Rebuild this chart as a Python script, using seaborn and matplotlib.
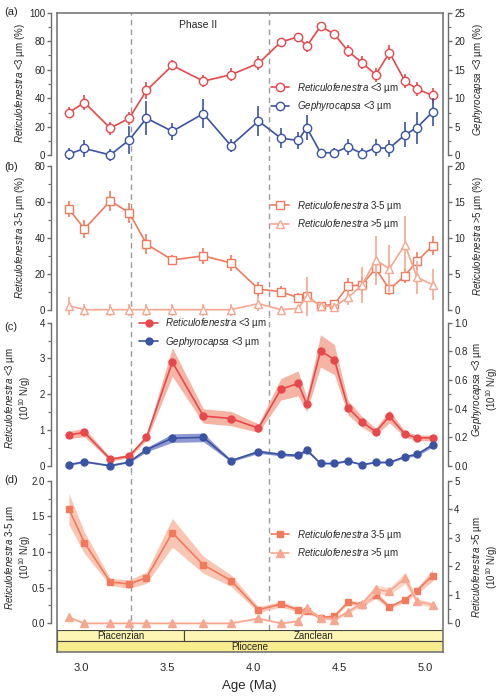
import numpy as np
import matplotlib
matplotlib.use('Agg')
import matplotlib.pyplot as plt
import seaborn as sns
from matplotlib.ticker import MultipleLocator, AutoMinorLocator
from matplotlib.patches import Rectangle

# Wiek próbek (Ma)
age = [2.93, 3.02, 3.17, 3.28, 3.38, 3.53, 3.71, 3.87, 4.03, 4.16, 4.26,
       4.31, 4.39, 4.47, 4.55, 4.63, 4.71, 4.79, 4.88, 4.95, 5.04]

# (a) udział procentowy
reti3_pct = [30, 37, 19, 26, 45.5, 63, 52, 56.5, 64.5, 79.5, 83,
             76.5, 90.5, 85, 73, 65, 56.5, 72, 52, 46.5, 42]
reti3_pct_err = [4, 5, 4.5, 4.5, 6, 3.5, 4, 4.5, 5, 3, 3,
                 4, 2, 2.5, 4, 4.5, 5, 5, 5, 5, 5.5]
geph3_pct = [0.2, 1.2, 0.05, 2.7, 6.5, 4.2, 7.3, 1.7, 6.0, 3.0, 2.6,
             4.85, 0.45, 0.45, 1.5, 0.3, 1.3, 1.25, 3.6, 4.85, 7.6]
geph3_pct_err = [1, 1.5, 1, 2.4, 3, 1.5, 2.6, 1.2, 2.7, 1.7, 1.5,
                 2.2, 0.6, 0.9, 1.4, 1, 1.5, 1.5, 2.2, 2.8, 2.5]

# (b) udział procentowy
reti35_pct = [56, 45, 60.5, 54, 36.5, 27.7, 30, 26, 11.5, 10, 6.7,
              7.4, 2.2, 3.0, 13.2, 13.8, 23, 11.3, 19, 27, 35.6]
reti35_pct_err = [4.6, 4.9, 5.4, 5.6, 5.6, 3, 4.6, 4.4, 3.8, 3.2, 2.4,
                  2, 1.5, 1.5, 4.2, 4.2, 4.2, 3.2, 4, 5, 5.3]
reti5_pct = [0.55, 0, 0, 0, 0, 0, 0, 0, 0.85, 0, 0.19,
             1.8, 0.56, 0.42, 1.7, 3.4, 6.9, 5.7, 9.05, 4.5, 3.5]
reti5_pct_err = [1.25, 0.85, 0.85, 0.85, 0.85, 0.85, 0.85, 0.85, 1.0, 0.5, 0.5,
                 2.7, 0.5, 0.5, 1.0, 2.5, 3.4, 3.3, 4, 2.3, 2.2]

# (c) liczebność bezwzględna (10^10 N/g)
reti3_abs = [0.86, 0.93, 0.18, 0.27, 0.79, 2.90, 1.39, 1.32, 1.05, 2.14, 2.30,
             1.72, 3.21, 2.97, 1.62, 1.23, 0.95, 1.38, 0.88, 0.78, 0.78]
reti3_abs_err = [0.1, 0.12, 0.05, 0.05, 0.08, 0.4, 0.2, 0.2, 0.12, 0.3, 0.35,
                 0.2, 0.45, 0.42, 0.2, 0.15, 0.1, 0.18, 0.08, 0.08, 0.08]
geph3_abs = [0.007, 0.028, 0.0, 0.026, 0.112, 0.193, 0.198, 0.035, 0.098, 0.079, 0.072,
             0.11, 0.016, 0.016, 0.033, 0.007, 0.023, 0.023, 0.063, 0.079, 0.145]
geph3_abs_err = [0.005, 0.006, 0.004, 0.006, 0.015, 0.03, 0.03, 0.008, 0.012, 0.01, 0.01,
                 0.012, 0.004, 0.004, 0.005, 0.003, 0.004, 0.004, 0.008, 0.01, 0.015]

# (d) liczebność bezwzględna (10^10 N/g)
reti35_abs = [1.60, 1.13, 0.58, 0.55, 0.64, 1.27, 0.82, 0.60, 0.19, 0.27, 0.19,
              0.17, 0.08, 0.10, 0.30, 0.26, 0.40, 0.23, 0.33, 0.46, 0.67]
reti35_abs_err = [0.22, 0.15, 0.05, 0.06, 0.08, 0.2, 0.12, 0.08, 0.04, 0.04, 0.03,
                  0.03, 0.02, 0.02, 0.03, 0.03, 0.05, 0.03, 0.03, 0.04, 0.08]
reti5_abs = [0.21, 0, 0, 0, 0, 0, 0, 0, 0.17, 0, 0.07,
             0.52, 0.2, 0.13, 0.41, 0.69, 1.19, 1.12, 1.58, 0.77, 0.65]
reti5_abs_err = [0.03, 0.02, 0.02, 0.02, 0.02, 0.02, 0.02, 0.02, 0.03, 0.02, 0.02,
                 0.05, 0.03, 0.03, 0.08, 0.08, 0.15, 0.12, 0.2, 0.1, 0.08]

# Skala czasu
stages = ['Piacenzian', 'Zanclean']
stage_bounds = [2.859, 3.6, 5.099]
epoch = 'Pliocene'
phase_lines = [3.29, 4.09]

RED = '#e8474c'
BLUE = '#3b53a4'
SALMON = '#f27a5c'
LIGHT = '#f7a78f'
GRAY = '#6d6d6d'

sns.set_style('white')
plt.rcParams['font.family'] = ['Liberation Sans', 'DejaVu Sans']
plt.rcParams['mathtext.fontset'] = 'custom'
plt.rcParams['mathtext.rm'] = 'Liberation Sans'
plt.rcParams['mathtext.it'] = 'Liberation Sans:italic'
plt.rcParams['font.size'] = 7

W, H = 500, 697
X0, X1 = 56.7, 442.7
XLIM = (2.859, 5.099)

fig = plt.figure(figsize=(W / 100, H / 100), dpi=100)


def rect(top, bot):
    return [X0 / W, 1 - bot / H, (X1 - X0) / W, (bot - top) / H]


def style_y(ax, side, lo, hi, step, fmt=None):
    for s in ax.spines.values():
        s.set_visible(False)
    sp = ax.spines[side]
    sp.set_visible(True)
    sp.set_color(GRAY)
    sp.set_linewidth(1.0)
    sp.set_position(('outward', 3.8))
    sp.set_bounds(lo, hi)
    ax.yaxis.set_major_locator(MultipleLocator(step))
    ax.yaxis.set_minor_locator(AutoMinorLocator(2))
    ax.tick_params(axis='y', which='major', direction='out', length=3, width=1,
                   color=GRAY, labelsize=7, pad=1.5, left=(side == 'left'),
                   right=(side == 'right'), labelleft=(side == 'left'),
                   labelright=(side == 'right'))
    ax.tick_params(axis='y', which='minor', direction='out', length=2, width=0.8,
                   color=GRAY, left=(side == 'left'), right=(side == 'right'))
    ax.tick_params(axis='x', which='both', bottom=False, top=False,
                   labelbottom=False)
    if fmt:
        ax.yaxis.set_major_formatter(plt.FormatStrFormatter(fmt))
    ax.set_facecolor('none')
    ax.set_xlim(*XLIM)
    ax.set_xlabel('')


def make_panel(top, bot, left_rng, right_rng):
    ax = fig.add_axes(rect(top, bot))
    ax2 = ax.twinx()
    ax.set_ylim(*left_rng)
    ax2.set_ylim(*right_rng)
    for p in phase_lines:
        ax.axvline(p, color='#9a9a9a', lw=1.0, ls=(0, (4, 3)), zorder=0)
    return ax, ax2


def line(ax, y, color, marker, ms, open_marker, label):
    sns.lineplot(x=age, y=y, ax=ax, color=color, marker=marker, markersize=ms,
                 markerfacecolor='white' if open_marker else color,
                 markeredgecolor=color, markeredgewidth=1.0, linewidth=1.2,
                 errorbar=None, zorder=3)
    ln = ax.lines[-1]
    ln.set_label(label)
    return ln


def ylab(ax, text, x_px, y_px, top, bot):
    # x_px: krawędź etykiety najbliższa osi
    ax.set_ylabel(text, fontsize=7, linespacing=1.0)
    ax.yaxis.set_label_coords((x_px - X0) / (X1 - X0), (bot - y_px) / (bot - top))


def legend(ax, handles, xf, yf):
    ax.legend(handles=handles, loc='center left', bbox_to_anchor=(xf, yf),
              frameon=False, fontsize=7, handlelength=1.9, handletextpad=0.75,
              labelspacing=0.45, borderaxespad=0, borderpad=0)


R3 = r'$\it{Reticulofenestra}$'
G3 = r'$\it{Gephyrocapsa}$'
UNIT = r'(10$^{10}$ N/g)'

# (a)
ta, ba = 12.7, 160.7
axa, axa2 = make_panel(ta, ba, (-3.8, 100), (-0.95, 25))
axa.errorbar(age, reti3_pct, yerr=reti3_pct_err, fmt='none', ecolor=RED, elinewidth=1.2, zorder=2)
h1 = line(axa, reti3_pct, RED, 'o', 6, True, R3 + ' <3 µm')
axa2.errorbar(age, geph3_pct, yerr=geph3_pct_err, fmt='none', ecolor=BLUE, elinewidth=1.2, zorder=2)
h2 = line(axa2, geph3_pct, BLUE, 'o', 6, True, G3 + ' <3 µm')
style_y(axa, 'left', 0, 100, 20)
style_y(axa2, 'right', 0, 25, 5)
ylab(axa, R3 + ' <3 µm (%)', 27, 83, ta, ba)
ylab(axa2, G3 + ' <3 µm (%)', 471, 80, ta, ba)
legend(axa2, [h1, h2], 0.555, 0.43)
axa.text(3.679, 91.4, 'Phase II', ha='center', va='center', fontsize=7.5)

# (b)
tb, bb = 160.7, 316
axb, axb2 = make_panel(tb, bb, (-3.5, 82.95), (-0.877, 20.74))
axb.errorbar(age, reti35_pct, yerr=reti35_pct_err, fmt='none', ecolor=SALMON, elinewidth=1.2, zorder=2)
h1 = line(axb, reti35_pct, SALMON, 's', 5.5, True, R3 + ' 3-5 µm')
axb2.errorbar(age, reti5_pct, yerr=reti5_pct_err, fmt='none', ecolor=LIGHT, elinewidth=1.2, zorder=2)
h2 = line(axb2, reti5_pct, LIGHT, '^', 6, True, R3 + ' >5 µm')
style_y(axb, 'left', 0, 80, 20)
style_y(axb2, 'right', 0, 20, 5)
ylab(axb, R3 + ' 3-5 µm (%)', 27, 238, tb, bb)
ylab(axb2, R3 + ' >5 µm (%)', 471, 236, tb, bb)
legend(axb2, [h1, h2], 0.555, 0.65)

# (c)
tc, bc = 316, 473
axc, axc2 = make_panel(tc, bc, (-0.204, 4.187), (-0.051, 1.047))
lo = np.array(reti3_abs) - np.array(reti3_abs_err)
hi = np.array(reti3_abs) + np.array(reti3_abs_err)
axc.fill_between(age, lo, hi, color='#f5b5a5', lw=0, zorder=1)
h1 = line(axc, reti3_abs, RED, 'o', 5, False, R3 + ' <3 µm')
lo = np.array(geph3_abs) - np.array(geph3_abs_err)
hi = np.array(geph3_abs) + np.array(geph3_abs_err)
axc2.fill_between(age, lo, hi, color='#8f98d1', lw=0, zorder=1)
h2 = line(axc2, geph3_abs, BLUE, 'o', 5, False, G3 + ' <3 µm')
style_y(axc, 'left', 0, 4, 1)
style_y(axc2, 'right', 0, 1, 0.2, '%.1f')
ylab(axc, R3 + ' <3 µm\n' + UNIT, 33, 398, tc, bc)
ylab(axc2, G3 + ' <3 µm\n' + UNIT, 470, 389, tc, bc)
legend(axc2, [h1, h2], 0.214, 0.895)

# (d)
td, bd = 473, 630.3
axd, axd2 = make_panel(td, bd, (-0.098, 2.108), (-0.245, 5.27))
lo = np.array(reti35_abs) - np.array(reti35_abs_err)
hi = np.array(reti35_abs) + np.array(reti35_abs_err)
axd.fill_between(age, lo, hi, color='#f8bca6', alpha=0.85, lw=0, zorder=1)
h1 = line(axd, reti35_abs, SALMON, 's', 5, False, R3 + ' 3-5 µm')
lo = np.array(reti5_abs) - np.array(reti5_abs_err)
hi = np.array(reti5_abs) + np.array(reti5_abs_err)
axd2.fill_between(age, lo, hi, color='#fad0c0', alpha=0.85, lw=0, zorder=1)
h2 = line(axd2, reti5_abs, LIGHT, '^', 5.5, False, R3 + ' >5 µm')
style_y(axd, 'left', 0, 2, 0.5, '%.1f')
style_y(axd2, 'right', 0, 5, 1)
ylab(axd, R3 + ' 3-5 µm\n' + UNIT, 33, 557, td, bd)
ylab(axd2, R3 + ' >5 µm\n' + UNIT, 470, 567, td, bd)
legend(axd2, [h1, h2], 0.555, 0.549)

# Skala czasu geologicznego
axt = fig.add_axes(rect(630.3, 652.3))
axt.set_xlim(*XLIM)
axt.set_ylim(0, 2)
for i, name in enumerate(stages):
    x0, x1 = stage_bounds[i], stage_bounds[i + 1]
    axt.add_patch(Rectangle((x0, 1), x1 - x0, 1, facecolor='#fcf5b3',
                            edgecolor='#444444', lw=0.8))
    axt.text((x0 + x1) / 2, 1.5, name, ha='center', va='center', fontsize=7)
axt.add_patch(Rectangle((stage_bounds[0], 0), stage_bounds[-1] - stage_bounds[0], 1,
                        facecolor='#f8ec8f', edgecolor='#444444', lw=0.8))
axt.text(np.mean([stage_bounds[0], stage_bounds[-1]]), 0.5, epoch,
         ha='center', va='center', fontsize=7)
for s in axt.spines.values():
    s.set_visible(False)
axt.set_yticks([])
axt.xaxis.set_major_locator(MultipleLocator(0.5))
axt.xaxis.set_minor_locator(MultipleLocator(0.1))
axt.xaxis.set_major_formatter(plt.FormatStrFormatter('%.1f'))
axt.tick_params(axis='x', which='major', direction='out', length=5, width=1,
                color=GRAY, labelsize=8, pad=3)
axt.tick_params(axis='x', which='minor', direction='out', length=3, width=1,
                color=GRAY)
axt.set_xlabel('Age (Ma)', fontsize=9.5, labelpad=5)

# Rama
frame = fig.add_axes(rect(12.7, 652.3))
frame.set_facecolor('none')
frame.set_xticks([])
frame.set_yticks([])
frame.set_zorder(10)
for s in frame.spines.values():
    s.set_color(GRAY)
    s.set_linewidth(1.1)
    s.set_visible(True)

for lab, y in zip(['(a)', '(b)', '(c)', '(d)'], [11.7, 166.7, 326.7, 480]):
    fig.text(4 / W, 1 - y / H, lab, fontsize=8, va='center', ha='left')

fig.savefig('out.png', dpi=100)
